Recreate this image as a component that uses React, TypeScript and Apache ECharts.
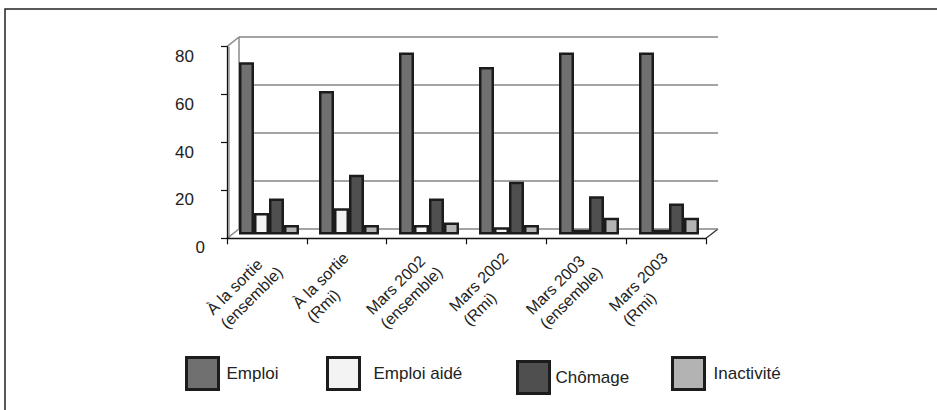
import React, { useEffect, useRef } from "react";
import * as echarts from "echarts";

const categories = [
  "À la sortie\n(ensemble)",
  "À la sortie\n(Rmi)",
  "Mars 2002\n(ensemble)",
  "Mars 2002\n(Rmi)",
  "Mars 2003\n(ensemble)",
  "Mars 2003\n(Rmi)",
];
const seriesNames = ["Emploi", "Emploi aidé", "Chômage", "Inactivité"];
const emploi = [72, 60, 76, 70, 76, 76];
const emploiAide = [9, 11, 4, 3, 2, 2];
const chomage = [15, 25, 15, 22, 16, 13];
const inactivite = [4, 4, 5, 4, 7, 7];
const yTicks = [0, 20, 40, 60, 80];

const FONT = "'Liberation Sans Narrow', 'Arial Narrow', 'Liberation Sans', Arial, sans-serif";
const FS = 16;
const colors = ["#707070", "#f2f3f2", "#4f4f4f", "#b3b3b3"];
const BORDER = "#1c1c1c";

export default function App() {
  const ref = useRef<HTMLDivElement>(null);
  useEffect(() => {
    if (!ref.current) return;
    const chart = echarts.init(ref.current, undefined, { renderer: "svg" });
    const values = [emploi, emploiAide, chomage, inactivite];
    const yMax = yTicks[yTicks.length - 1];
    const yStep = yTicks[1] - yTicks[0];

    const legendLayout = [
      { left: 180, top: 351, pad: 3 },
      { left: 321, top: 351, pad: 9 },
      { left: 511, top: 355, pad: 1 },
      { left: 666, top: 351, pad: 4 },
    ];

    const yLabelText = { fontSize: 17, fontFamily: FONT, color: "#222" };

    chart.setOption({
      animation: false,
      backgroundColor: "#ffffff",
      grid: [
        { left: 239, top: 37, width: 479, height: 192 },
        { left: 229, top: 43, width: 480, height: 191.5 },
        { left: 227, top: 46.7, width: 479, height: 191.6 },
        { left: 233, top: 46.7, width: 479, height: 191.6 },
      ],
      xAxis: [
        { gridIndex: 0, type: "category", data: categories, show: false },
        { gridIndex: 1, type: "category", data: categories, show: false },
        {
          gridIndex: 2,
          type: "category",
          data: categories,
          axisLine: { lineStyle: { color: "#111", width: 1.3 } },
          axisTick: { show: true, length: 6, lineStyle: { color: "#111", width: 1.2 } },
          axisLabel: { show: false },
          splitLine: { show: false },
        },
        {
          gridIndex: 3,
          type: "category",
          data: categories,
          axisLine: { show: false },
          axisTick: { show: false },
          splitLine: { show: false },
          axisLabel: {
            interval: 0,
            rotate: 45,
            margin: 24,
            color: "#222",
            fontSize: FS,
            fontFamily: FONT,
            formatter: (v: string) => v.split("\n").map((s) => `{c|${s}}`).join("\n"),
            rich: { c: { align: "left", fontSize: FS, fontFamily: FONT, color: "#222", lineHeight: 20 } },
          },
        },
      ],
      yAxis: [
        {
          gridIndex: 0,
          type: "value",
          min: 0,
          max: yMax,
          interval: yStep,
          axisLine: { show: false },
          axisTick: { show: false },
          axisLabel: { show: false },
          splitLine: { show: true, lineStyle: { color: "#858585", width: 1.5 } },
        },
        { gridIndex: 1, type: "value", min: 0, max: yMax, interval: yStep, show: false },
        {
          gridIndex: 2,
          type: "value",
          min: 0,
          max: yMax,
          interval: yStep,
          axisLine: { show: true, lineStyle: { color: "#111", width: 1.3 } },
          axisTick: { show: true, length: 6, lineStyle: { color: "#111", width: 1.2 } },
          axisLabel: {
            margin: 22,
            verticalAlign: "top",
            ...yLabelText,
            padding: [1, 0, 0, 0],
            formatter: (v: number) => (v === 0 ? `{z|${v}}` : `{n|${v}}`),
            rich: {
              z: { ...yLabelText },
              n: { ...yLabelText, padding: [0, 11, 0, 0] },
            },
          },
          splitLine: { show: false },
        },
        { gridIndex: 3, type: "value", min: 0, max: yMax, interval: yStep, show: false },
      ],
      legend: seriesNames.map((name, i) => ({
        data: [name],
        left: legendLayout[i].left,
        top: legendLayout[i].top,
        itemWidth: 32,
        itemHeight: 32,
        icon: "rect",
        selectedMode: false,
        itemStyle: { borderColor: BORDER, borderWidth: 3 },
        textStyle: {
          fontSize: 17,
          fontFamily: FONT,
          color: "#222",
          padding: [18, 0, 0, legendLayout[i].pad],
        },
      })),
      series: seriesNames.map((name, i) => ({
        name,
        type: "bar",
        xAxisIndex: 1,
        yAxisIndex: 1,
        data: values[i],
        barWidth: 15,
        barGap: "0%",
        itemStyle: { color: colors[i], borderColor: BORDER, borderWidth: 2.5 },
      })),
      graphic: [
        {
          type: "rect",
          shape: { x: 5, y: 9, width: 945, height: 420 },
          style: { fill: "none", stroke: "#222", lineWidth: 1.5 },
          silent: true,
        },
        {
          type: "line",
          shape: { x1: 227, y1: 46.7, x2: 239, y2: 37 },
          style: { stroke: "#8a8a8a", lineWidth: 1.5 },
        },
        {
          type: "line",
          shape: { x1: 239, y1: 37, x2: 239, y2: 229 },
          style: { stroke: "#8a8a8a", lineWidth: 1.5 },
        },
        {
          type: "line",
          shape: { x1: 229, y1: 47, x2: 229, y2: 238 },
          style: { stroke: "#9a9a9a", lineWidth: 1.5 },
        },
        {
          type: "line",
          shape: { x1: 227, y1: 238.3, x2: 239, y2: 229 },
          style: { stroke: "#8a8a8a", lineWidth: 1.5 },
        },
        {
          type: "line",
          shape: { x1: 706, y1: 238.3, x2: 718, y2: 229 },
          style: { stroke: "#333", lineWidth: 1.3 },
        },
      ],
    });
    return () => chart.dispose();
  }, []);
  return (
    <div
      ref={ref}
      style={{ position: "fixed", left: 0, top: 0, width: 937, height: 410 }}
    />
  );
}
